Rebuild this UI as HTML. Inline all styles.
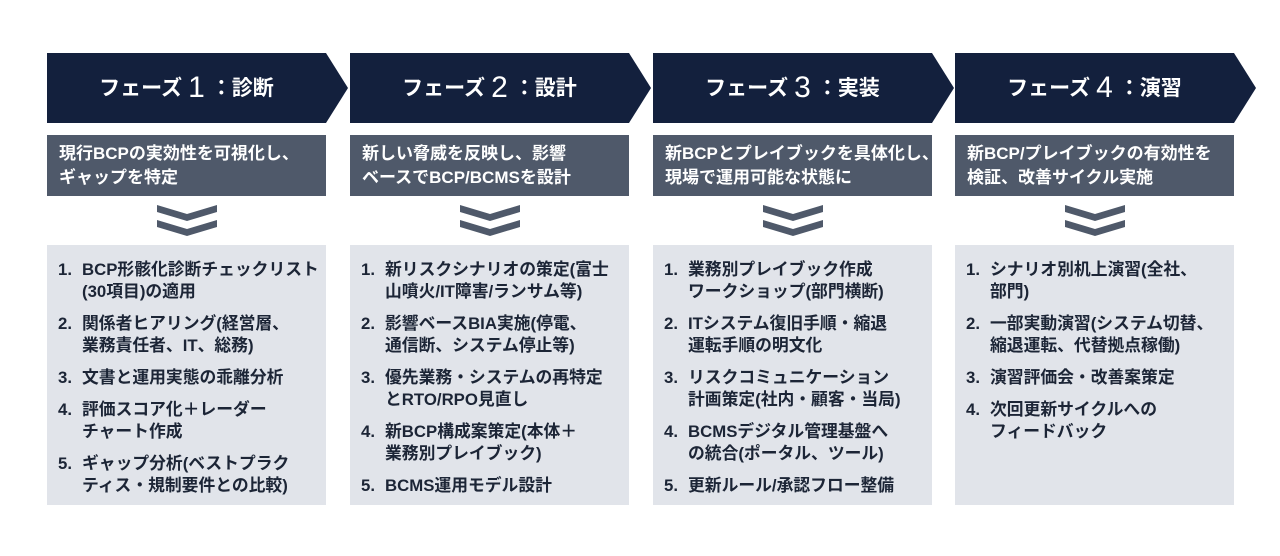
<!DOCTYPE html>
<html><head><meta charset="utf-8"><style>
body{margin:0;width:1280px;height:556px;background:#fff;position:relative;overflow:hidden;font-family:"Liberation Sans","Noto Sans CJK JP",sans-serif;}
.col{position:absolute;top:0;width:279px;}
.hd{position:absolute;top:53px;left:0;width:301px;height:70px;}
.hd svg{position:absolute;left:0;top:0}
.hd .t{position:absolute;left:0;width:279px;top:0;height:70px;line-height:70px;text-align:center;color:#fff;font-weight:bold;font-size:21px;}
.hd .t b{font-size:30px;font-weight:normal;margin:0 6px 0 6px;vertical-align:-2px}
.sub{position:absolute;top:135px;left:0;width:279px;height:61px;background:#4f596a;color:#fff;font-weight:bold;font-size:17px;line-height:24px;box-sizing:border-box;padding:7px 0 0 12px;white-space:nowrap;}
.chev{position:absolute;top:205px;left:110px}
.list{position:absolute;top:245px;left:0;width:279px;height:260px;background:#e1e4ea;box-sizing:border-box;padding:14px 0 0 11px;color:#1c2536;font-weight:bold;font-size:16.8px;line-height:22px;}
.it{position:relative;padding-left:24px;margin-bottom:10px;white-space:nowrap}
.it span{position:absolute;left:0}
</style></head><body>

<div class="col" style="left:47px">
<div class="hd"><svg width="301" height="70"><polygon points="0,0 279,0 301,35 279,70 0,70" fill="#13203d"/></svg><div class="t">フェーズ<b>1</b>：診断</div></div>
<div class="sub">現行BCPの実効性を可視化し、<br>ギャップを特定</div>
<svg class="chev" width="60" height="32"><polygon points="0,0 30,9 60,0 60,7 30,16 0,7" fill="#4f596a"/><polygon points="0,15 30,24 60,15 60,22 30,31 0,22" fill="#4f596a"/></svg>
<div class="list">
<div class="it"><span>1.</span>BCP形骸化診断チェックリスト<br>(30項目)の適用</div>
<div class="it"><span>2.</span>関係者ヒアリング(経営層、<br>業務責任者、IT、総務)</div>
<div class="it"><span>3.</span>文書と運用実態の乖離分析</div>
<div class="it"><span>4.</span>評価スコア化＋レーダー<br>チャート作成</div>
<div class="it"><span>5.</span>ギャップ分析(ベストプラク<br>ティス・規制要件との比較)</div>
</div></div>

<div class="col" style="left:350px">
<div class="hd"><svg width="301" height="70"><polygon points="0,0 279,0 301,35 279,70 0,70" fill="#13203d"/></svg><div class="t">フェーズ<b>2</b>：設計</div></div>
<div class="sub">新しい脅威を反映し、影響<br>ベースでBCP/BCMSを設計</div>
<svg class="chev" width="60" height="32"><polygon points="0,0 30,9 60,0 60,7 30,16 0,7" fill="#4f596a"/><polygon points="0,15 30,24 60,15 60,22 30,31 0,22" fill="#4f596a"/></svg>
<div class="list">
<div class="it"><span>1.</span>新リスクシナリオの策定(富士<br>山噴火/IT障害/ランサム等)</div>
<div class="it"><span>2.</span>影響ベースBIA実施(停電、<br>通信断、システム停止等)</div>
<div class="it"><span>3.</span>優先業務・システムの再特定<br>とRTO/RPO見直し</div>
<div class="it"><span>4.</span>新BCP構成案策定(本体＋<br>業務別プレイブック)</div>
<div class="it"><span>5.</span>BCMS運用モデル設計</div>
</div></div>

<div class="col" style="left:653px">
<div class="hd"><svg width="301" height="70"><polygon points="0,0 279,0 301,35 279,70 0,70" fill="#13203d"/></svg><div class="t">フェーズ<b>3</b>：実装</div></div>
<div class="sub">新BCPとプレイブックを具体化し、<br>現場で運用可能な状態に</div>
<svg class="chev" width="60" height="32"><polygon points="0,0 30,9 60,0 60,7 30,16 0,7" fill="#4f596a"/><polygon points="0,15 30,24 60,15 60,22 30,31 0,22" fill="#4f596a"/></svg>
<div class="list">
<div class="it"><span>1.</span>業務別プレイブック作成<br>ワークショップ(部門横断)</div>
<div class="it"><span>2.</span>ITシステム復旧手順・縮退<br>運転手順の明文化</div>
<div class="it"><span>3.</span>リスクコミュニケーション<br>計画策定(社内・顧客・当局)</div>
<div class="it"><span>4.</span>BCMSデジタル管理基盤へ<br>の統合(ポータル、ツール)</div>
<div class="it"><span>5.</span>更新ルール/承認フロー整備</div>
</div></div>

<div class="col" style="left:955px">
<div class="hd"><svg width="301" height="70"><polygon points="0,0 279,0 301,35 279,70 0,70" fill="#13203d"/></svg><div class="t">フェーズ<b>4</b>：演習</div></div>
<div class="sub">新BCP/プレイブックの有効性を<br>検証、改善サイクル実施</div>
<svg class="chev" width="60" height="32"><polygon points="0,0 30,9 60,0 60,7 30,16 0,7" fill="#4f596a"/><polygon points="0,15 30,24 60,15 60,22 30,31 0,22" fill="#4f596a"/></svg>
<div class="list">
<div class="it"><span>1.</span>シナリオ別机上演習(全社、<br>部門)</div>
<div class="it"><span>2.</span>一部実動演習(システム切替、<br>縮退運転、代替拠点稼働)</div>
<div class="it"><span>3.</span>演習評価会・改善案策定</div>
<div class="it"><span>4.</span>次回更新サイクルへの<br>フィードバック</div>
</div></div>

</body></html>
